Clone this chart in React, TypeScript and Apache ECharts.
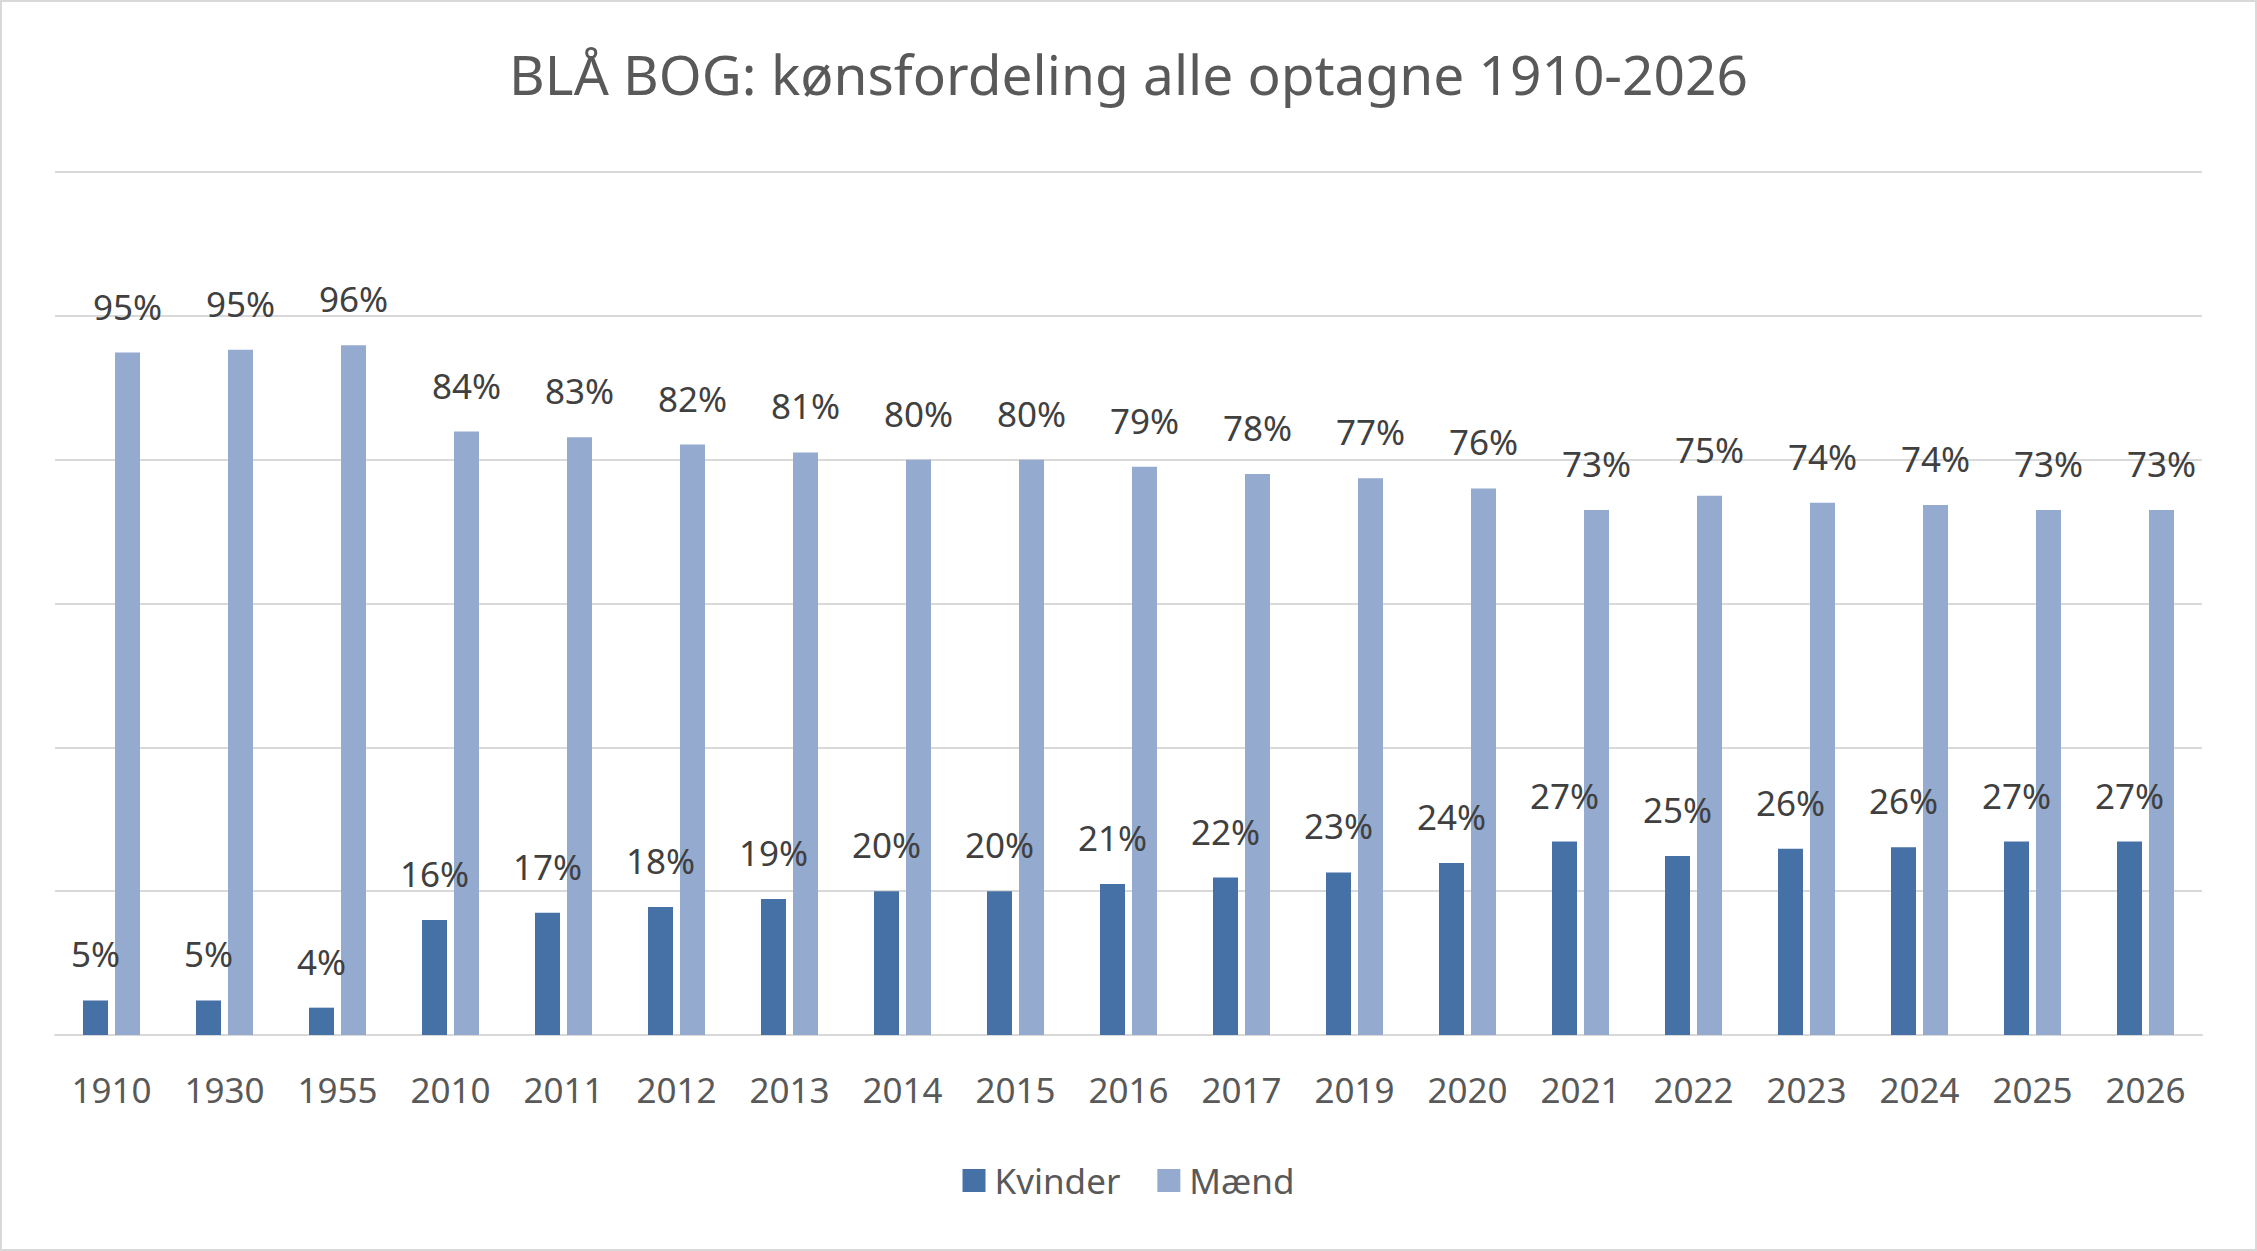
import { useEffect, useRef } from 'react'
import * as echarts from 'echarts'

const years = ['1910', '1930', '1955', '2010', '2011', '2012', '2013', '2014', '2015', '2016', '2017', '2019', '2020', '2021', '2022', '2023', '2024', '2025', '2026']
// share in percent
const kvinder = [4.8, 4.8, 3.8, 16.0, 17.0, 17.8, 18.9, 20.0, 20.0, 21.0, 21.9, 22.6, 23.9, 26.9, 24.9, 25.9, 26.1, 26.9, 26.9]
const maend = [94.9, 95.3, 95.9, 83.9, 83.1, 82.1, 81.0, 80.0, 80.0, 79.0, 78.0, 77.4, 76.0, 73.0, 75.0, 74.0, 73.7, 73.0, 73.0]

const FONT = '"Noto Sans", "Open Sans", sans-serif'
const DARK = '#4671a6'
const LIGHT = '#94aacf'

export default function App() {
  const chartRef = useRef<HTMLDivElement>(null)

  useEffect(() => {
    if (!chartRef.current) return
    const chart = echarts.init(chartRef.current, null, { renderer: 'svg' })

    const label = {
      show: true,
      position: 'top',
      distance: 29,
      fontSize: 35,
      lineHeight: 35,
      fontFamily: FONT,
      color: '#404040',
      formatter: (p: any) => Math.round(p.value) + '%'
    }

    chart.setOption({
      animation: false,
      backgroundColor: '#ffffff',
      textStyle: { fontFamily: FONT },
      title: {
        text: 'BLÅ BOG: kønsfordeling alle optagne 1910-2026',
        left: 'center',
        top: 39,
        textStyle: { fontSize: 55, fontWeight: 'normal', color: '#595959', fontFamily: FONT }
      },
      legend: {
        top: 1156,
        left: 'center',
        icon: 'rect',
        itemWidth: 23,
        itemHeight: 23,
        itemGap: 37,
        textStyle: { fontSize: 35, color: '#595959', fontFamily: FONT, padding: [0, 0, 0, 4] },
        data: ['Kvinder', 'Mænd']
      },
      grid: { left: 53, right: 53, top: 170, bottom: 214, containLabel: false },
      xAxis: {
        type: 'category',
        data: years,
        axisTick: { show: false },
        axisLine: { lineStyle: { color: '#d9d9d9', width: 2 } },
        axisLabel: { fontSize: 35, color: '#595959', margin: 37, fontFamily: FONT, interval: 0 }
      },
      yAxis: {
        type: 'value',
        min: 0,
        max: 120,
        interval: 20,
        axisLabel: { show: false },
        axisLine: { show: false },
        axisTick: { show: false },
        splitLine: { lineStyle: { color: '#d9d9d9', width: 2 } }
      },
      series: [
        {
          name: 'Kvinder',
          type: 'bar',
          data: kvinder,
          barWidth: 25,
          barGap: '28%',
          itemStyle: { color: DARK },
          label
        },
        {
          name: 'Mænd',
          type: 'bar',
          data: maend,
          barWidth: 25,
          barGap: '28%',
          itemStyle: { color: LIGHT },
          label
        }
      ]
    })

    return () => {
      chart.dispose()
    }
  }, [])

  return (
    <div
      ref={chartRef}
      style={{
        position: 'absolute',
        left: 0,
        top: 0,
        width: 2257,
        height: 1251,
        boxSizing: 'border-box',
        border: '2px solid #d9d9d9'
      }}
    />
  )
}
